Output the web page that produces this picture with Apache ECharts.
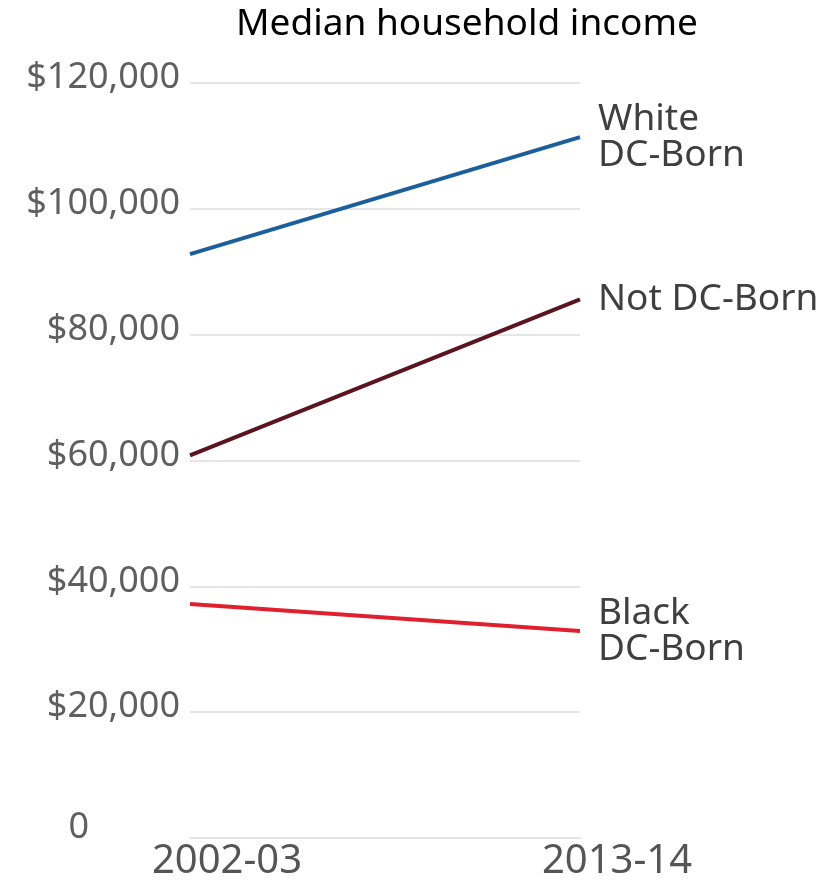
<!DOCTYPE html>
<html>
<head>
<meta charset="utf-8">
<script src="https://cdn.jsdelivr.net/npm/echarts@6/dist/echarts.min.js"></script>
<style>
  html, body { margin: 0; padding: 0; background: #fff; }
  #main { width: 839px; height: 882px; }
</style>
</head>
<body>
<div id="main"></div>
<script>
// data
const years = ['2002-03', '2013-14']
const whiteDcBorn = [92800, 111400]
const notDcBorn = [60800, 85600]
const blackDcBorn = [37200, 32900]
const yTicks = [0, 20000, 40000, 60000, 80000, 100000, 120000]

const chart = echarts.init(document.getElementById('main'))

const labelFont = '"Noto Sans", sans-serif'

function lineSeries(name, data, color, label) {
  return {
    name: name,
    type: 'line',
    data: data,
    symbol: 'none',
    lineStyle: { color: color, width: 4 },
    itemStyle: { color: color },
    endLabel: {
      show: true,
      formatter: label,
      distance: 18,
      color: '#3f3f3f',
      fontFamily: labelFont,
      fontSize: 37,
      lineHeight: 36,
      align: 'left',
    },
  }
}

const option = {
  backgroundColor: '#ffffff',
  animation: false,
  title: {
    text: 'Median household income',
    left: 231,
    top: 1,
    textStyle: {
      fontFamily: labelFont,
      fontWeight: 'normal',
      fontSize: 37,
      color: '#000000',
    },
  },
  grid: {
    left: 190,
    right: 259,
    top: 83,
    bottom: 41,
    containLabel: false,
  },
  xAxis: {
    type: 'category',
    data: years,
    boundaryGap: false,
    axisLine: { lineStyle: { color: '#e4e4e4', width: 2 } },
    axisTick: { show: false },
    axisLabel: {
      margin: 4,
      color: '#555555',
      fontFamily: labelFont,
      fontSize: 40,
      padding: [0, 0, 0, 74],
    },
  },
  yAxis: {
    type: 'value',
    min: 0,
    max: 120000,
    interval: 20000,
    axisLine: { show: false },
    axisTick: { show: false },
    splitLine: { lineStyle: { color: '#e6e6e6', width: 2 } },
    axisLabel: {
      margin: 10,
      color: '#5f5f5f',
      fontFamily: labelFont,
      fontSize: 36,
      formatter: function (v) {
        if (yTicks.indexOf(v) < 0) return ''
        if (v === 0) return '{z|0}'
        return '{n|$' + v.toLocaleString('en-US') + '}'
      },
      rich: {
        n: { fontFamily: labelFont, fontSize: 36, color: '#5f5f5f', padding: [0, 0, 10, 0] },
        z: { fontFamily: labelFont, fontSize: 36, color: '#5f5f5f', padding: [0, 91, 20, 0] },
      },
    },
  },
  series: [
    lineSeries('White DC-Born', whiteDcBorn, '#1d5f9d', 'White\nDC-Born'),
    lineSeries('Not DC-Born', notDcBorn, '#5b1420', 'Not DC-Born'),
    lineSeries('Black DC-Born', blackDcBorn, '#e0202e', 'Black\nDC-Born'),
  ],
}

chart.setOption(option)
</script>
</body>
</html>
